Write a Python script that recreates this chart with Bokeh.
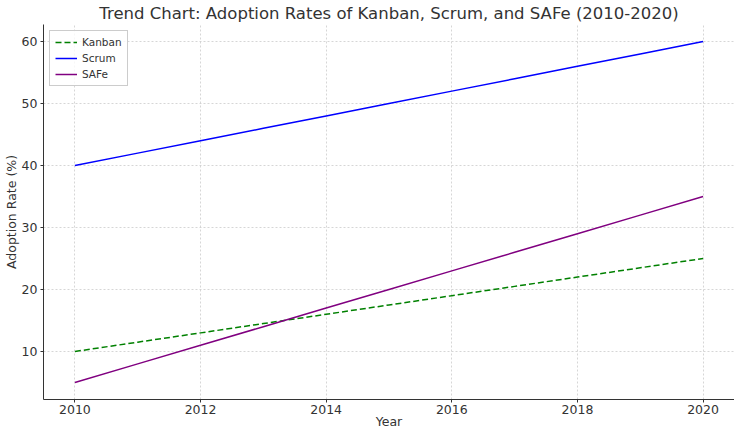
from bokeh.plotting import figure
from bokeh.embed import file_html
from bokeh.resources import INLINE
from bokeh.models import Range1d, FixedTicker, Legend, LegendItem

years = [2010, 2011, 2012, 2013, 2014, 2015, 2016, 2017, 2018, 2019, 2020]
kanban = [10, 11.5, 13, 14.5, 16, 17.5, 19, 20.5, 22, 23.5, 25]
scrum = [40, 42, 44, 46, 48, 50, 52, 54, 56, 58, 60]
safe = [5, 8, 11, 14, 17, 20, 23, 26, 29, 32, 35]
x_ticks = [2010, 2012, 2014, 2016, 2018, 2020]
y_ticks = [10, 20, 30, 40, 50, 60]

FONT = "DejaVu Sans"

p = figure(width=734, height=431, output_backend="svg", toolbar_location=None,
           x_range=Range1d(2009.5, 2020.5), y_range=Range1d(2.25, 62.75),
           min_border_left=0, min_border_right=0, min_border_top=19, min_border_bottom=0)
p.title.text = "Trend Chart: Adoption Rates of Kanban, Scrum, and SAFe (2010-2020)"
p.title.text_font = FONT
p.title.text_font_size = "16.5px"
p.title.text_font_style = "normal"
p.title.text_color = "#333333"
p.title.align = "center"
p.title.offset = 0
p.title.standoff = 3

p.outline_line_color = None
p.background_fill_color = "white"
p.border_fill_color = "white"

r1 = p.line(years, kanban, line_color="green", line_width=1.5, line_dash="6 3")
r2 = p.line(years, scrum, line_color="blue", line_width=1.5)
r3 = p.line(years, safe, line_color="purple", line_width=1.5)

legend = Legend(items=[LegendItem(label="Kanban", renderers=[r1]),
                       LegendItem(label="Scrum", renderers=[r2]),
                       LegendItem(label="SAFe", renderers=[r3])],
                location="top_left")
legend.label_text_font = FONT
legend.label_text_font_size = "10.5px"
legend.label_text_color = "#333333"
legend.label_height = 12
legend.glyph_height = 12
legend.glyph_width = 22
legend.spacing = 4
legend.padding = 5
legend.margin = 6
legend.border_line_color = "#cccccc"
legend.border_line_alpha = 1
legend.background_fill_alpha = 0.8
p.add_layout(legend)

for ax in (p.xaxis, p.yaxis):
    ax.axis_line_color = "#333333"
    ax.axis_line_width = 1
    ax.major_tick_line_color = "#333333"
    ax.major_tick_in = 0
    ax.major_tick_out = 3
    ax.minor_tick_line_color = None
    ax.major_label_text_font = FONT
    ax.major_label_text_font_size = "12.5px"
    ax.major_label_text_color = "#333333"
    ax.axis_label_text_font = FONT
    ax.axis_label_text_font_size = "12.5px"
    ax.axis_label_text_font_style = "normal"
    ax.axis_label_text_color = "#333333"

p.xaxis.ticker = FixedTicker(ticks=x_ticks)
p.yaxis.ticker = FixedTicker(ticks=y_ticks)
p.xaxis.axis_label = "Year"
p.yaxis.axis_label = "Adoption Rate (%)"
p.xaxis.axis_label_standoff = -3
p.yaxis.axis_label_standoff = 0
p.xaxis.major_label_standoff = 2
p.yaxis.major_label_standoff = 3

p.xgrid.grid_line_color = "#cccccc"
p.ygrid.grid_line_color = "#cccccc"
p.xgrid.grid_line_dash = "2 2"
p.ygrid.grid_line_dash = "2 2"
p.xgrid.grid_line_width = 0.8
p.ygrid.grid_line_width = 0.8

open("out.html", "w").write(file_html(p, INLINE))
